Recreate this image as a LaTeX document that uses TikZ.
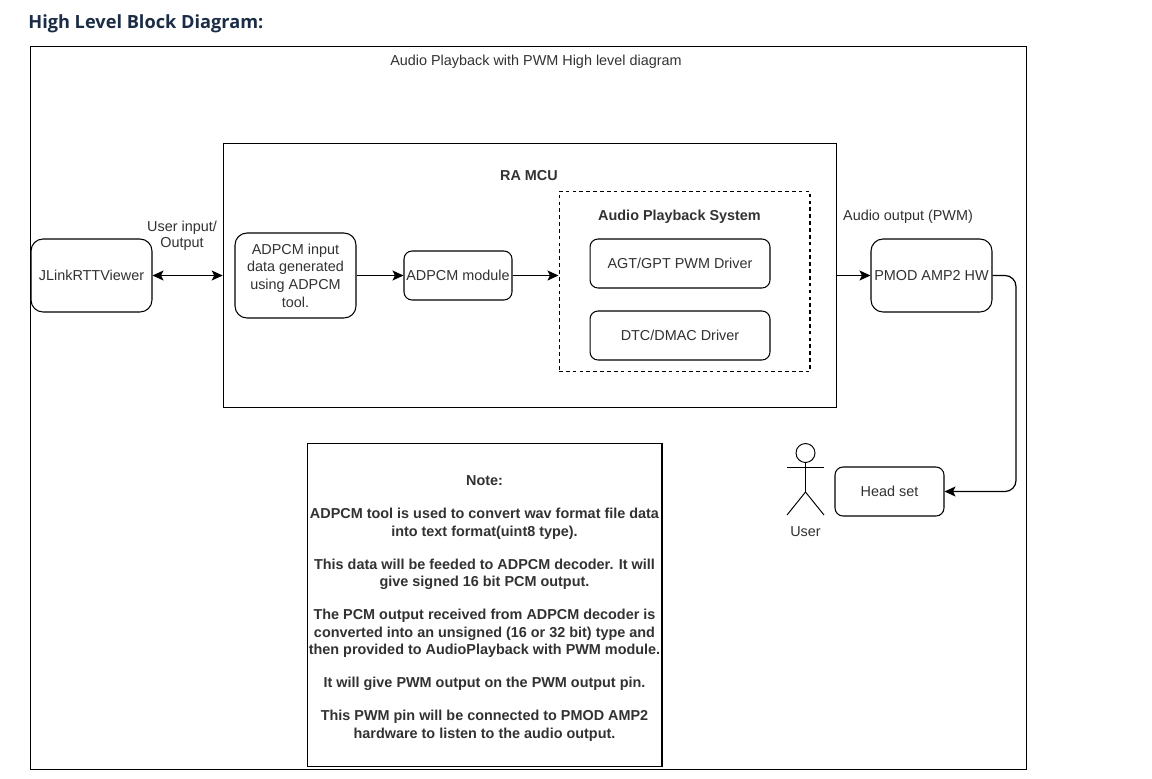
\documentclass[tikz,border=0pt]{standalone}
\usepackage{fontspec}
\setmainfont{Liberation Sans}
\newfontfamily\titlefont{Open Sans}
\usetikzlibrary{positioning,arrows.meta}
\definecolor{titlenavy}{RGB}{27,45,69}
\definecolor{labelgray}{RGB}{50,50,50}
\tikzset{
  block/.style={draw,rounded corners=2.4mm,line width=0.6pt,align=center,inner sep=0pt,text=labelgray},
  frame/.style={draw,line width=0.6pt,inner sep=0pt},
  label/.style={text=labelgray,align=center,inner sep=0pt,font=\fontsize{8.2}{10}\selectfont},
  flow/.style={draw,line width=0.7pt,-{Stealth[length=2.2mm,width=2mm,inset=0.5mm]}},
  stick/.style={draw,line width=0.55pt}
}
\begin{document}
\begin{tikzpicture}[x=0.02cm,y=-0.02cm,font=\fontsize{8.2}{10}\selectfont]
\useasboundingbox[fill=white] (0,0) rectangle (1152,778);
% Heading
\node[anchor=west,inner sep=0pt,text=titlenavy,font=\titlefont\bfseries\fontsize{10.35}{12}\selectfont] (heading) at (28,23.5) {High Level Block Diagram:};

% Frames
\node[frame,minimum width=19.92cm,minimum height=14.48cm] (outer) at (528.4,408) {};
\node[frame,minimum width=12.26cm,minimum height=5.28cm] (mcu) at (529.7,275.3) {};
\node[frame,line width=0.6pt,dash pattern=on 2.1pt off 1.8pt,minimum width=5.02cm,minimum height=3.6cm] (audio) at (684.5,281.3) {};

% Labels
\node[label] (toplabel) at (536,61.5) {Audio Playback with PWM High level diagram};
\node[label,font=\bfseries\fontsize{8.2}{10}\selectfont] (mculabel) at (529,175.5) {RA MCU};
\node[label,font=\bfseries\fontsize{8.2}{10}\selectfont] (audiolabel) at (679.5,217) {Audio Playback System};
\node[label,font=\fontsize{8.2}{9.4}\selectfont] (iolabel) at (182,236) {User input/\\Output};
\node[label] (pwmlabel) at (908,217) {Audio output (PWM)};

% Blocks
\node[block,minimum width=2.42cm,minimum height=1.46cm] (viewer) at (91.5,275.5) {JLinkRTTViewer};
\node[block,minimum width=2.42cm,minimum height=1.7cm] (input) at (295.5,275.5) {ADPCM input\\data generated\\using ADPCM\\tool.};
\node[block,rounded corners=1.6mm,minimum width=2.16cm,minimum height=0.98cm] (module) at (458,275.5) {ADPCM module};
\node[block,rounded corners=1.6mm,minimum width=3.6cm,minimum height=0.98cm] (agt) at (680,263.5) {AGT/GPT PWM Driver};
\node[block,rounded corners=1.6mm,minimum width=3.6cm,minimum height=0.98cm] (dtc) at (680,335.5) {DTC/DMAC Driver};
\node[block,minimum width=2.42cm,minimum height=1.46cm] (pmod) at (931.5,275.5) {PMOD AMP2 HW};
\node[block,rounded corners=1.6mm,minimum width=2.18cm,minimum height=0.98cm] (headset) at (889.5,491.5) {Head set};

% Note
\node[frame,minimum width=7.1cm,minimum height=6.46cm] (note) at (484.5,604.8) {};
\node[align=center,inner sep=0pt,font=\bfseries\fontsize{8.2}{10}\selectfont,text=labelgray] (notetext) at (484.5,608.5) {Note:\\[8.8pt]
ADPCM tool is used to convert wav format file data\\into text format(uint8 type).\\[8.8pt]
This data will be feeded to ADPCM decoder. It will\\give signed 16 bit PCM output.\\[8.8pt]
The PCM output received from ADPCM decoder is\\converted into an unsigned (16 or 32 bit) type and\\then provided to AudioPlayback with PWM module.\\[8.8pt]
It will give PWM output on the PWM output pin.\\[8.8pt]
This PWM pin will be connected to PMOD AMP2\\hardware to listen to the audio output.};

% User figure
\node[stick,circle,minimum size=0.38cm,inner sep=0pt] (head) at (805.5,453) {};
\coordinate (hip) at (805.5,492);
\coordinate (armL) at (787,467);
\coordinate (armR) at (824,467);
\coordinate (legL) at (787,515);
\coordinate (legR) at (824,515);
\draw[stick] (head) -- (hip);
\draw[stick] (armL) -- (armR);
\foreach \s in {legL,legR} {
    \draw[stick] (hip) -- (\s);
}
\node[label,below=6.5pt of hip |- legL] (userlabel) {User};

% Connectors
\coordinate (bend) at (1016,400);
\draw[flow,{Stealth[length=2.2mm,width=2mm,inset=0.5mm]}-{Stealth[length=2.2mm,width=2mm,inset=0.5mm]}] (viewer.east) -- (viewer.east -| mcu.west);
\draw[flow] (input.east) -- (module.west);
\draw[flow] (module.east) -- (module.east -| audio.west);
\draw[flow] (pmod.west -| mcu.east) -- (pmod.west);
\draw[flow,rounded corners=2.2mm] (pmod.east) -| (bend) |- (headset.east);
\end{tikzpicture}
\end{document}
